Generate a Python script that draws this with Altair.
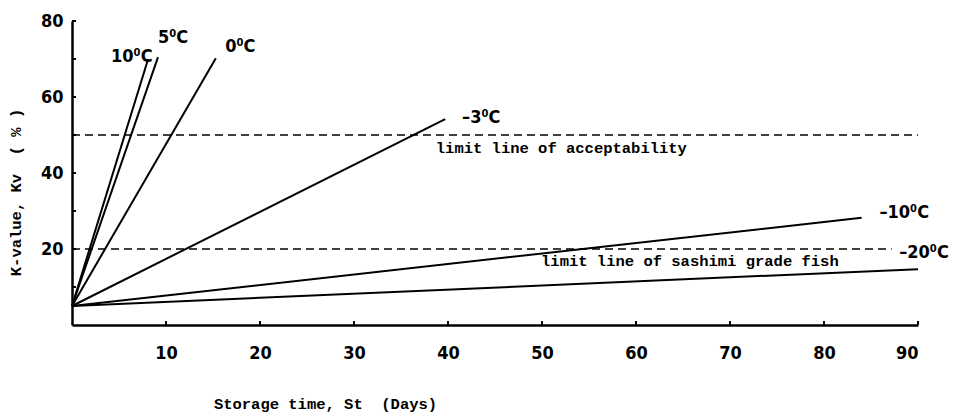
import altair as alt
import pandas as pd

# Storage-temperature lines (K-value vs storage time)
temps = ["10⁰C", "5⁰C", "0⁰C", "–3⁰C", "–10⁰C", "–20⁰C"]
start_day = [0, 0, 0, 0, 0, 0]
start_k = [5, 5, 5, 5, 5, 5]
end_day = [8.1, 9.15, 15.3, 39.7, 84.0, 90.0]
end_k = [70.0, 70.5, 70.2, 54.2, 28.2, 14.7]
label_day = [4.15, 9.15, 16.3, 41.5, 85.9, 88.0]
label_k = [69.2, 74.2, 71.8, 53.2, 28.2, 17.6]

# Limit lines
limit_names = ["limit line of acceptability", "limit line of sashimi grade fish"]
limit_k = [50, 20]
limit_start = [0, 0]
limit_end = [90, 87.2]
limit_text_day = [38.7, 49.9]
limit_text_k = [45.3, 15.5]

x_ticks = [10, 20, 30, 40, 50, 60, 70, 80, 90]
y_ticks = [10, 20, 30, 40, 50, 60, 70, 80]
y_labels = [20, 40, 60, 80]

SANS = "Liberation Sans Narrow, DejaVu Sans Condensed, sans-serif"
MONO = "Liberation Mono, DejaVu Sans Mono, monospace"

lines_df = pd.DataFrame({"temp": temps, "x0": start_day, "y0": start_k,
                         "x1": end_day, "y1": end_k,
                         "lx": label_day, "ly": label_k})
limits_df = pd.DataFrame({"name": limit_names, "k": limit_k,
                          "x0": limit_start, "x1": limit_end,
                          "tx": limit_text_day, "ty": limit_text_k})
xt_df = pd.DataFrame({"t": x_ticks})
yt_df = pd.DataFrame({"t": y_ticks})

xscale = alt.Scale(domain=[0, 90], nice=False, zero=False)
yscale = alt.Scale(domain=[0, 80], nice=False, zero=False)

xaxis = alt.Axis(values=x_ticks, ticks=False, grid=False, domainWidth=2.5,
                 domainColor="black", labelFont=SANS, labelFontSize=18,
                 labelFontWeight="bold", labelColor="black", labelPadding=19,
                 title="Storage time, St\u00a0 (Days)", titleFont=MONO,
                 titleFontSize=15.5, titleFontWeight="bold", titleColor="black",
                 titleX=253, titleY=83, titleAnchor="middle", titleAlign="center",
                 titleBaseline="alphabetic")
yaxis = alt.Axis(values=y_labels, ticks=False, grid=False, domainWidth=2.5,
                 domainColor="black", labelFont=SANS, labelFontSize=18,
                 labelFontWeight="bold", labelColor="black", labelPadding=9,
                 title="K-value, Kv\u00a0 ( % )", titleFont=MONO, titleFontSize=15.5,
                 titleFontWeight="bold", titleColor="black", titleAngle=270,
                 titleX=-52, titleY=171, titleAlign="center",
                 titleBaseline="alphabetic")

temp_lines = alt.Chart(lines_df).mark_rule(color="black", strokeWidth=2).encode(
    x=alt.X("x0:Q", scale=xscale, axis=xaxis),
    y=alt.Y("y0:Q", scale=yscale, axis=yaxis),
    x2="x1:Q", y2="y1:Q")

temp_labels = alt.Chart(lines_df).mark_text(
    align="left", baseline="alphabetic", font=SANS, fontSize=18,
    fontWeight="bold", color="black").encode(
    x=alt.X("lx:Q", scale=xscale), y=alt.Y("ly:Q", scale=yscale), text="temp:N")

limit_lines = alt.Chart(limits_df).mark_rule(
    color="black", strokeWidth=1.3, strokeDash=[8, 5]).encode(
    x=alt.X("x0:Q", scale=xscale), x2="x1:Q", y=alt.Y("k:Q", scale=yscale))

limit_labels = alt.Chart(limits_df).mark_text(
    align="left", baseline="alphabetic", font=MONO, fontSize=15.5,
    fontWeight="bold", color="black").encode(
    x=alt.X("tx:Q", scale=xscale), y=alt.Y("ty:Q", scale=yscale), text="name:N")

x_tick_marks = alt.Chart(xt_df).mark_rule(color="black", strokeWidth=2).encode(
    x=alt.X("t:Q", scale=xscale), y=alt.value(304), y2=alt.value(300))

y_tick_marks = alt.Chart(yt_df).mark_rule(color="black", strokeWidth=2).encode(
    y=alt.Y("t:Q", scale=yscale), x=alt.value(0), x2=alt.value(4))

chart = alt.layer(limit_lines, temp_lines, x_tick_marks, y_tick_marks,
                  temp_labels, limit_labels).properties(
    width=846, height=304,
    autosize=alt.AutoSizeParams(type="none"),
    padding={"left": 72, "top": 21, "right": 36, "bottom": 91},
    background="white",
).configure_view(stroke=None)

chart.save("out.html", embed_options={"renderer": "svg", "actions": False})
